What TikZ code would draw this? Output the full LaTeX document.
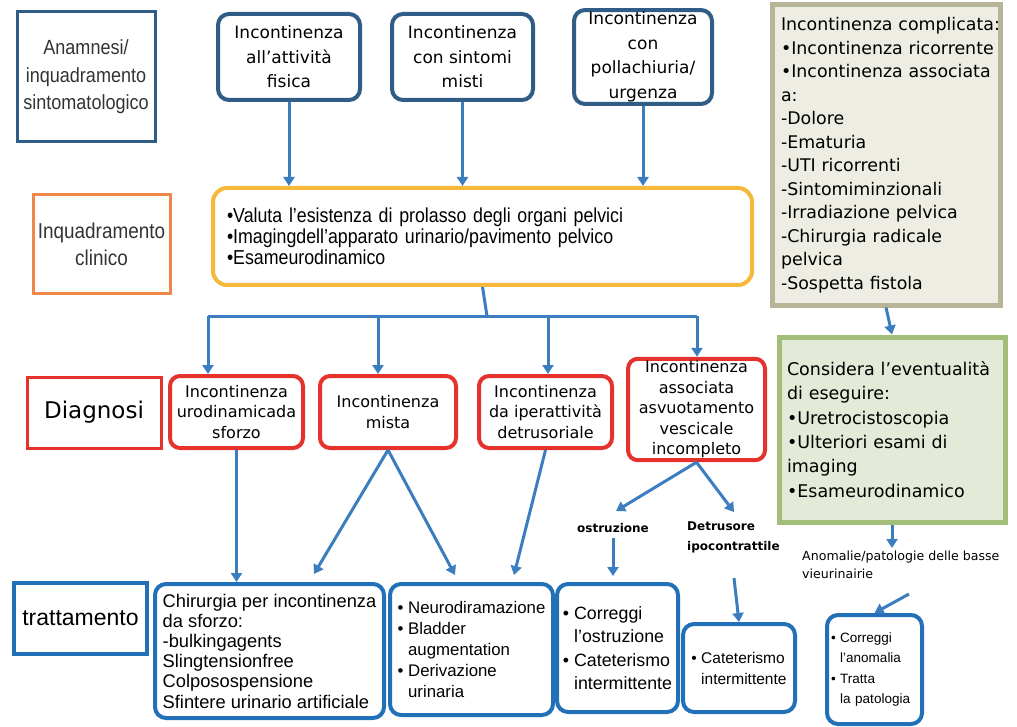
\documentclass[tikz,border=0pt]{standalone}
\usepackage{fontspec}
\setmainfont{Liberation Sans}
\newfontfamily\verd{DejaVu Sans}
\newfontfamily\narrowf[FakeStretch=0.88,WordSpace=0.8]{Liberation Sans}
\usetikzlibrary{arrows.meta}

\definecolor{topblue}{HTML}{2F5D86}
\definecolor{btmblue}{HTML}{2270B8}
\definecolor{arrowblue}{HTML}{3C7DBF}
\definecolor{diagred}{HTML}{E5322D}
\definecolor{clinorange}{HTML}{F0874A}
\definecolor{examyellow}{HTML}{F5B83A}
\definecolor{tanline}{HTML}{B8B498}
\definecolor{tanfill}{HTML}{EEEDE3}
\definecolor{greenline}{HTML}{A3BE78}
\definecolor{greenfill}{HTML}{E3EAD7}
\definecolor{textgrey}{HTML}{333333}

\begin{document}
\begin{tikzpicture}[x=1pt,y=-1pt,
  rowlabel/.style={draw, line width=3pt, rectangle, align=center, inner sep=2pt},
  topbox/.style={draw=topblue, line width=4pt, rounded corners=11pt, fill=white,
    align=center, inner sep=2pt, font={\verd\fontsize{17}{24.5}\selectfont}},
  diagbox/.style={draw=diagred, line width=4pt, rounded corners=10pt, fill=white,
    align=center, inner sep=2pt, font={\verd\fontsize{16}{20.5}\selectfont}},
  treatbox/.style={draw=btmblue, line width=4pt, rounded corners=11pt, fill=white,
    align=left, inner ysep=2pt},
  notebox/.style={draw, line width=5pt, rectangle, align=left, inner ysep=2pt},
  line/.style={draw=arrowblue, line width=3pt},
  conn/.style={line, -{Triangle[width=11pt,length=9pt]}},
  small/.style={font={\verd\bfseries\fontsize{12}{20}\selectfont}, inner sep=1pt}
]
\useasboundingbox (0,0) rectangle (1017,727);

% row labels on the left
\node[rowlabel, draw=topblue, minimum width=138, minimum height=130,
  font={\narrowf\fontsize{20.5}{27.5}\selectfont}, text=textgrey]
  (lanam) at (86,77) {Anamnesi/\\inquadramento\\sintomatologico};
\node[rowlabel, draw=clinorange, minimum width=137, minimum height=99,
  font={\narrowf\fontsize{21.5}{27}\selectfont}, text=textgrey]
  (lclin) at (101.5,244.5) {Inquadramento\\clinico};
\node[rowlabel, draw=diagred, minimum width=134, minimum height=71,
  font={\verd\fontsize{23}{27}\selectfont}]
  (ldiag) at (94,412.5) {Diagnosi};
\node[rowlabel, draw=btmblue, line width=4pt, minimum width=133, minimum height=71,
  font={\fontsize{23}{27}\selectfont}]
  (ltratt) at (80.5,618.5) {trattamento};

% presenting symptoms
\node[topbox, minimum width=142, minimum height=86] (t1) at (289,57)
  {Incontinenza\\all’attività\\fisica};
\node[topbox, minimum width=141, minimum height=86] (t2) at (462.5,57)
  {Incontinenza\\con sintomi\\misti};
\node[topbox, minimum width=138, minimum height=86] (t3) at (643,57)
  {Incontinenza\\con\\pollachiuria/\\urgenza};

% clinical assessment
\node[draw=examyellow, line width=4pt, rounded corners=14pt, fill=white,
  minimum width=539, minimum height=97, text width=511, inner xsep=14pt,
  align=left, font={\narrowf\fontsize{20.2}{21}\selectfont}]
  (ybox) at (482.5,236.5)
  {•Valuta l’esistenza di prolasso degli organi pelvici\\
   •Imagingdell’apparato urinario/pavimento pelvico\\
   •Esameurodinamico};

% complicated incontinence (long lines boxed so they never wrap)
\node[notebox, draw=tanline, fill=tanfill, minimum width=228, minimum height=300,
  text width=210, inner xsep=9pt, font={\verd\fontsize{17.4}{23.5}\selectfont}]
  (comp) at (886,155)
  {\mbox{Incontinenza complicata:}\\
   \mbox{•Incontinenza ricorrente}\\
   \mbox{•Incontinenza associata}\\
   a:\\
   -Dolore\\
   -Ematuria\\
   -UTI ricorrenti\\
   -Sintomiminzionali\\
   \mbox{-Irradiazione pelvica}\\
   \mbox{-Chirurgia radicale}\\
   pelvica\\
   \mbox{-Sospetta fistola}};

\node[notebox, draw=greenline, fill=greenfill, minimum width=226, minimum height=185,
  text width=210, inner xsep=8pt, font={\verd\fontsize{17.5}{24.4}\selectfont}]
  (green) at (892,429.5)
  {\mbox{Considera l’eventualità}\\
   di eseguire:\\
   •Uretrocistoscopia\\
   \mbox{•Ulteriori esami di}\\
   imaging\\
   •Esameurodinamico};

% diagnoses
\node[diagbox, minimum width=133, minimum height=72] (d1) at (236.5,412)
  {Incontinenza\\urodinamicada\\sforzo};
\node[diagbox, minimum width=136, minimum height=72] (d2) at (388,412)
  {Incontinenza\\mista};
\node[diagbox, minimum width=133, minimum height=72] (d3) at (545.5,412)
  {Incontinenza\\da iperattività\\detrusoriale};
\node[diagbox, minimum width=137, minimum height=95] (d4) at (696.5,409.5)
  {Incontinenza\\associata\\asvuotamento\\vescicale\\incompleto};

% treatments
\node[treatbox, minimum width=229, minimum height=134, inner xsep=6pt,
  font={\fontsize{18.3}{20.2}\selectfont}] (chir) at (269.5,651)
  {Chirurgia per incontinenza\\
   da sforzo:\\
   -bulkingagents\\
   Slingtensionfree\\
   Colposospensione\\
   Sfintere urinario artificiale};
\node[treatbox, minimum width=163, minimum height=131, inner xsep=6pt,
  font={\fontsize{16.8}{21}\selectfont}] (neuro) at (471.5,649.5)
  {• Neurodiramazione\\
   • Bladder\\
   \phantom{•} augmentation\\
   • Derivazione\\
   \phantom{•} urinaria};
\node[treatbox, minimum width=121, minimum height=128, inner xsep=5pt,
  font={\fontsize{17.8}{23.5}\selectfont}] (corr) at (617.5,648)
  {• Correggi\\
   \phantom{•} l’ostruzione\\
   • Cateterismo\\
   \phantom{•} intermittente};
\node[treatbox, minimum width=112, minimum height=88, inner xsep=4pt,
  font={\fontsize{15.5}{21}\selectfont}] (cat) at (739,668)
  {• Cateterismo\\
   \phantom{•} intermittente};
\node[treatbox, minimum width=95, minimum height=109, text width=87, inner xsep=4pt,
  font={\fontsize{13.5}{20.3}\selectfont}] (rb) at (874.5,669.5)
  {• Correggi\\
   \phantom{•} l’anomalia\\
   • Tratta\\
   \phantom{•} la patologia};

% branch labels
\node[small, anchor=center] (ostr) at (613,528) {ostruzione};
\node[small, anchor=west, align=left] (detr) at (686,537) {Detrusore\\ipocontrattile};
\node[anchor=north west, align=left, inner sep=0pt,
  font={\verd\fontsize{12.6}{18}\selectfont}] (anom) at (802,551)
  {Anomalie/patologie delle basse\\vieurinairie};

% symptoms -> assessment
\draw[conn] (t1.south) -- (t1.south |- ybox.north);
\draw[conn] (t2.south) -- (t2.south |- ybox.north);
\draw[conn] (t3.south) -- (t3.south |- ybox.north);

% assessment -> diagnoses
\coordinate (split) at (487,316);
\coordinate (h1) at (208,316);
\coordinate (h2) at (378,316);
\coordinate (h3) at (548,316);
\coordinate (h4) at (697,316);
\draw[line] (ybox.south) -- (split);
\draw[line] (h1) -- (h4);
\draw[conn] (h1) -- (h1 |- d1.north);
\draw[conn] (h2) -- (h2 |- d2.north);
\draw[conn] (h3) -- (h3 |- d3.north);
\draw[conn] (h4) -- (h4 |- d4.north);

% complicated path
\draw[conn] (comp.south) -- (green.north);
\coordinate (gend) at (892,548);
\draw[conn] (green.south) -- (gend);
\coordinate (astart) at (909,594);
\draw[conn] (astart) -- (rb.north);

% diagnoses -> treatments
\coordinate (e1) at (314,574);
\coordinate (e2) at (455,575);
\coordinate (e3) at (514,575);
\coordinate (e4) at (616,511);
\coordinate (e5) at (734,512);
\coordinate (dd) at (734,578);
\draw[conn] (d1.south) -- (d1.south |- chir.north);
\draw[conn] (d2.south) -- (e1);
\draw[conn] (d2.south) -- (e2);
\draw[conn] (d3.south) -- (e3);
\draw[conn] (d4.south) -- (e4);
\draw[conn] (d4.south) -- (e5);
\draw[conn, shorten <=4pt, shorten >=6pt] (ostr.south) -- (ostr.south |- corr.north);
\draw[conn] (dd) -- (cat.north);
\end{tikzpicture}
\end{document}
